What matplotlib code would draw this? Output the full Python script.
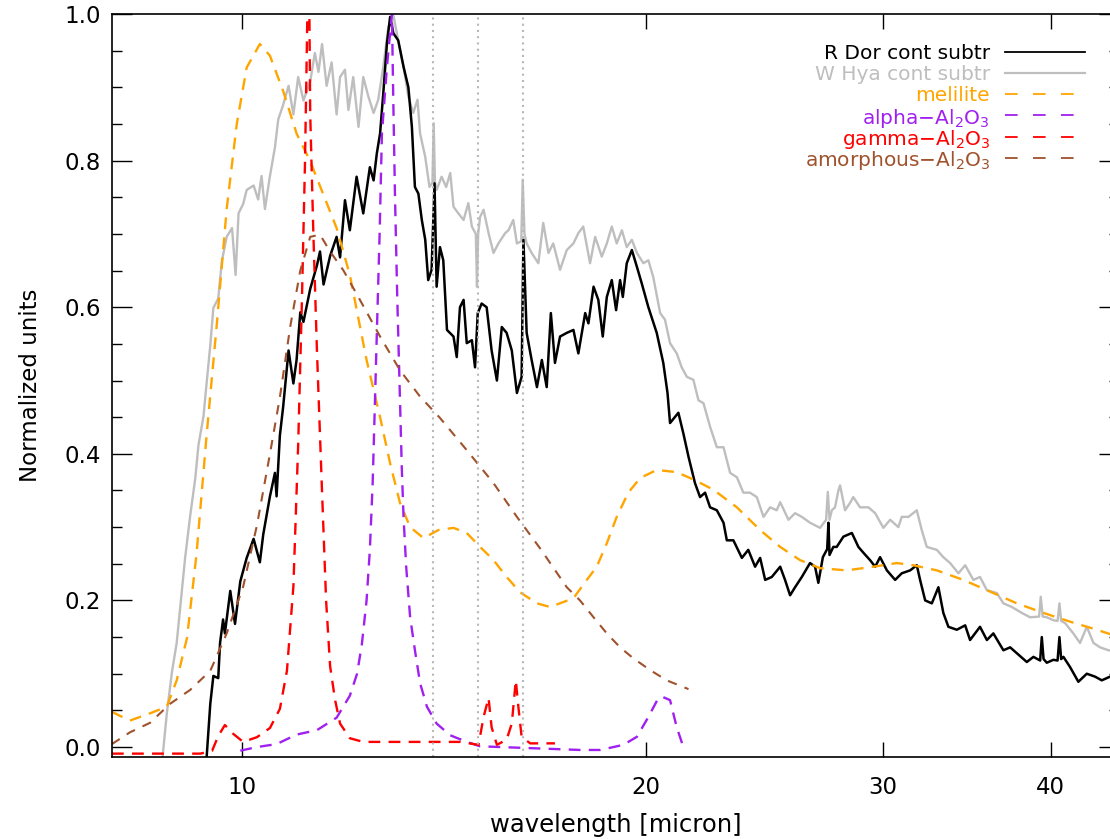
import matplotlib
matplotlib.use("Agg")
import matplotlib.pyplot as plt
from matplotlib.ticker import FixedLocator, NullLocator, MultipleLocator, FuncFormatter
from matplotlib.lines import Line2D

# ---------------- data ----------------
rdor_wl = [9.41, 9.47, 9.52, 9.60, 9.63, 9.68, 9.71, 9.80, 9.88, 9.97, 10.08, 10.20, 10.31, 10.37,
           10.49, 10.58, 10.61, 10.67, 10.73, 10.83, 10.92, 10.98, 11.05, 11.11, 11.24, 11.37, 11.43,
           11.50, 11.63, 11.76, 11.83, 11.93, 12.03, 12.17, 12.31, 12.45, 12.53, 12.60, 12.67, 12.74,
           12.82, 12.89, 12.96, 13.07, 13.19, 13.30, 13.38, 13.45, 13.53, 13.61, 13.69, 13.76, 13.84,
           13.91, 13.96, 14.04, 14.12, 14.21, 14.37, 14.45, 14.53, 14.62, 14.70, 14.83, 14.91, 14.98,
           15.08, 15.21, 15.34, 15.48, 15.61, 15.74, 15.88, 16.02, 16.15, 16.20, 16.29, 16.43, 16.58,
           16.72, 16.86, 16.98, 17.10, 17.25, 17.45, 17.65, 17.80, 18.01, 18.11, 18.27, 18.42, 18.56,
           18.69, 18.85, 18.99, 19.12, 19.21, 19.34, 19.51, 19.68, 19.84, 20.07, 20.36, 20.59, 20.74,
           20.83, 21.13, 21.31, 21.50, 21.74, 21.93, 22.12, 22.31, 22.57, 22.83, 22.96, 23.22, 23.56,
           23.82, 24.10, 24.31, 24.52, 24.80, 25.16, 25.37, 25.59, 25.81, 26.11, 26.48, 26.71, 26.86,
           27.07, 27.27, 27.33, 27.38, 27.56, 27.72, 28.04, 28.45, 28.77, 29.02, 29.35, 29.61, 29.86,
           30.21, 30.64, 30.99, 31.44, 31.80, 31.98, 32.26, 32.63, 33.00, 33.28, 33.57, 34.06, 34.55,
           34.84, 35.44, 35.86, 36.26, 36.89, 37.32, 37.75, 38.40, 38.84, 39.29, 39.40, 39.52, 39.74,
           40.19, 40.48, 40.61, 40.73, 40.89, 41.36, 41.95, 42.56, 43.17, 43.67, 44.29, 44.98]
rdor_val = [-0.015, 0.059, 0.097, 0.094, 0.142, 0.174, 0.155, 0.213, 0.168, 0.226, 0.258, 0.284, 0.252,
            0.290, 0.342, 0.374, 0.342, 0.425, 0.464, 0.541, 0.496, 0.528, 0.593, 0.580, 0.625, 0.657,
            0.676, 0.631, 0.670, 0.696, 0.668, 0.746, 0.705, 0.778, 0.728, 0.791, 0.773, 0.810, 0.837,
            0.892, 0.960, 0.996, 0.974, 0.964, 0.928, 0.900, 0.846, 0.764, 0.755, 0.719, 0.692, 0.637,
            0.651, 0.769, 0.628, 0.682, 0.664, 0.569, 0.560, 0.532, 0.600, 0.610, 0.551, 0.555, 0.518,
            0.592, 0.605, 0.600, 0.541, 0.500, 0.573, 0.565, 0.541, 0.483, 0.505, 0.692, 0.565, 0.528,
            0.491, 0.528, 0.491, 0.592, 0.524, 0.560, 0.565, 0.569, 0.537, 0.592, 0.578, 0.628, 0.610,
            0.560, 0.614, 0.637, 0.596, 0.637, 0.614, 0.660, 0.678, 0.655, 0.633, 0.600, 0.565, 0.524,
            0.483, 0.442, 0.456, 0.428, 0.396, 0.360, 0.341, 0.347, 0.327, 0.323, 0.306, 0.282, 0.282,
            0.258, 0.269, 0.246, 0.258, 0.228, 0.232, 0.246, 0.228, 0.207, 0.218, 0.232, 0.251, 0.246,
            0.224, 0.259, 0.270, 0.306, 0.262, 0.273, 0.273, 0.287, 0.292, 0.273, 0.265, 0.255, 0.246,
            0.259, 0.241, 0.228, 0.237, 0.241, 0.248, 0.228, 0.200, 0.196, 0.218, 0.183, 0.164, 0.160,
            0.166, 0.146, 0.164, 0.146, 0.155, 0.132, 0.136, 0.128, 0.116, 0.123, 0.118, 0.150, 0.120,
            0.115, 0.119, 0.118, 0.150, 0.120, 0.123, 0.109, 0.089, 0.100, 0.096, 0.091, 0.096, 0.092]

whya_wl = [8.72, 8.79, 8.87, 8.94, 8.99, 9.07, 9.15, 9.23, 9.28, 9.36, 9.41, 9.47, 9.52, 9.60, 9.66,
           9.74, 9.83, 9.89, 9.94, 10.02, 10.08, 10.20, 10.28, 10.34, 10.40, 10.49, 10.58, 10.64, 10.73,
           10.83, 10.92, 11.01, 11.11, 11.24, 11.33, 11.40, 11.47, 11.56, 11.66, 11.76, 11.83, 11.93,
           12.00, 12.10, 12.21, 12.31, 12.42, 12.53, 12.63, 12.74, 12.85, 12.96, 13.07, 13.19, 13.30,
           13.41, 13.51, 13.57, 13.69, 13.79, 13.86, 13.89, 13.92, 13.96, 14.08, 14.19, 14.29, 14.37,
           14.49, 14.62, 14.74, 14.83, 14.93, 14.96, 14.99, 15.04, 15.13, 15.26, 15.39, 15.52, 15.70,
           15.79, 15.92, 16.02, 16.14, 16.18, 16.23, 16.29, 16.43, 16.62, 16.76, 16.91, 17.05, 17.25,
           17.45, 17.65, 17.80, 17.95, 18.16, 18.32, 18.53, 18.69, 18.85, 19.01, 19.18, 19.34, 19.51,
           19.68, 19.90, 20.07, 20.24, 20.48, 20.65, 20.83, 21.07, 21.25, 21.44, 21.68, 21.87, 22.06,
           22.31, 22.57, 22.83, 23.09, 23.36, 23.62, 23.89, 24.17, 24.45, 24.73, 25.01, 25.16, 25.52,
           25.81, 26.11, 26.48, 26.94, 27.22, 27.30, 27.38, 27.49, 27.64, 27.80, 27.88, 28.12, 28.36,
           28.52, 28.85, 29.27, 29.61, 30.03, 30.38, 30.81, 30.99, 31.35, 31.80, 32.07, 32.35, 32.91,
           33.28, 33.67, 34.15, 34.55, 35.04, 35.44, 35.86, 36.48, 36.89, 37.43, 38.07, 38.62, 39.22,
           39.33, 39.46, 39.74, 40.19, 40.48, 40.61, 40.73, 41.01, 41.59, 42.07, 42.56, 43.05, 43.54,
           44.17, 44.98]
whya_val = [-0.019, 0.046, 0.104, 0.142, 0.187, 0.258, 0.316, 0.367, 0.412, 0.451, 0.496, 0.548, 0.599,
            0.612, 0.663, 0.696, 0.708, 0.644, 0.728, 0.741, 0.760, 0.766, 0.747, 0.779, 0.734, 0.779,
            0.818, 0.856, 0.876, 0.902, 0.863, 0.914, 0.882, 0.908, 0.947, 0.921, 0.959, 0.902, 0.934,
            0.863, 0.914, 0.924, 0.869, 0.914, 0.846, 0.914, 0.887, 0.865, 0.883, 0.928, 0.982, 0.999,
            0.964, 0.928, 0.887, 0.865, 0.883, 0.837, 0.805, 0.764, 0.770, 0.851, 0.770, 0.760, 0.778,
            0.764, 0.783, 0.737, 0.728, 0.719, 0.742, 0.710, 0.700, 0.628, 0.700, 0.723, 0.733, 0.701,
            0.674, 0.687, 0.701, 0.705, 0.719, 0.687, 0.690, 0.774, 0.700, 0.687, 0.674, 0.660, 0.715,
            0.674, 0.687, 0.651, 0.678, 0.687, 0.701, 0.710, 0.660, 0.696, 0.669, 0.687, 0.710, 0.687,
            0.705, 0.682, 0.692, 0.674, 0.660, 0.664, 0.641, 0.592, 0.583, 0.551, 0.537, 0.518, 0.505,
            0.501, 0.473, 0.469, 0.437, 0.409, 0.409, 0.374, 0.368, 0.347, 0.347, 0.341, 0.314, 0.327,
            0.323, 0.334, 0.310, 0.319, 0.314, 0.306, 0.299, 0.310, 0.348, 0.310, 0.323, 0.327, 0.350,
            0.357, 0.323, 0.333, 0.341, 0.327, 0.327, 0.319, 0.299, 0.310, 0.300, 0.314, 0.314, 0.323,
            0.296, 0.273, 0.269, 0.259, 0.251, 0.237, 0.248, 0.228, 0.232, 0.214, 0.210, 0.196, 0.191,
            0.183, 0.177, 0.178, 0.205, 0.178, 0.177, 0.173, 0.172, 0.196, 0.172, 0.169, 0.155, 0.142,
            0.164, 0.142, 0.136, 0.132, 0.130]

melilite_wl = [8.00, 8.25, 8.54, 8.79, 8.94, 9.10, 9.25, 9.41, 9.58, 9.74, 9.91, 10.08, 10.31, 10.49,
               10.73, 10.98, 11.24, 11.50, 11.76, 12.03, 12.38, 12.67, 12.89, 13.11, 13.34, 13.65, 14.00,
               14.37, 14.70, 15.04, 15.39, 15.74, 16.11, 16.58, 16.96, 17.65, 18.06, 18.37, 18.69, 19.01,
               19.39, 19.79, 20.36, 21.07, 21.74, 22.44, 23.36, 24.31, 25.16, 26.03, 26.94, 28.20, 29.52,
               30.73, 31.61, 32.91, 34.44, 36.06, 37.75, 39.51, 41.36, 43.30, 44.98]
melilite_val = [0.048, 0.036, 0.046, 0.055, 0.091, 0.149, 0.264, 0.425, 0.580, 0.734, 0.850, 0.927,
                0.959, 0.943, 0.895, 0.837, 0.799, 0.753, 0.708, 0.644, 0.528, 0.450, 0.387, 0.333,
                0.300, 0.285, 0.296, 0.299, 0.292, 0.273, 0.255, 0.232, 0.211, 0.196, 0.191, 0.203,
                0.228, 0.246, 0.278, 0.314, 0.347, 0.367, 0.378, 0.375, 0.364, 0.351, 0.327, 0.296,
                0.273, 0.255, 0.244, 0.241, 0.246, 0.251, 0.248, 0.241, 0.228, 0.212, 0.196, 0.183,
                0.171, 0.160, 0.150]

alpha_wl = [9.97, 10.26, 10.61, 10.98, 11.37, 11.76, 12.03, 12.18, 12.28, 12.38, 12.45, 12.51, 12.56,
            12.60, 12.66, 12.71, 12.82, 12.93, 12.96, 13.00, 13.05, 13.11, 13.15, 13.19, 13.25, 13.34,
            13.45, 13.57, 13.73, 13.96, 14.29, 14.70, 15.04, 17.85, 18.48, 19.23, 19.68, 20.07, 20.42,
            20.59, 20.83, 21.07, 21.31]
alpha_val = [-0.005, 0.000, 0.004, 0.017, 0.023, 0.040, 0.070, 0.100, 0.140, 0.200, 0.269, 0.360,
             0.473, 0.565, 0.700, 0.837, 0.928, 1.000, 0.883, 0.746, 0.610, 0.473, 0.382, 0.314,
             0.246, 0.177, 0.132, 0.087, 0.055, 0.032, 0.016, 0.007, 0.001, -0.004, -0.004, 0.003,
             0.014, 0.041, 0.067, 0.068, 0.064, 0.027, 0.000]

gamma_wl = [8.00, 9.31, 9.50, 9.60, 9.71, 9.85, 10.02, 10.26, 10.49, 10.67, 10.80, 10.92, 11.01, 11.08,
            11.14, 11.185, 11.205, 11.224, 11.24, 11.30, 11.37, 11.47, 11.55, 11.63, 11.73, 11.83,
            12.03, 12.31, 14.53, 15.00, 15.13, 15.26, 15.34, 15.48, 15.74, 15.88, 15.99, 16.06, 16.15,
            16.39, 17.10]
gamma_val = [-0.009, -0.009, -0.005, 0.015, 0.030, 0.018, 0.007, 0.0135, 0.026, 0.052, 0.104, 0.219,
             0.412, 0.606, 0.799, 1.000, 1.150, 1.000, 0.863, 0.702, 0.541, 0.348, 0.200, 0.110,
             0.064, 0.032, 0.012, 0.007, 0.007, 0.003, 0.041, 0.067, 0.027, 0.003, 0.010, 0.032,
             0.091, 0.055, 0.014, 0.005, 0.005]

amorph_wl = [8.00, 8.25, 8.54, 8.84, 9.15, 9.47, 9.74, 10.02, 10.26, 10.49, 10.67, 10.86, 11.05, 11.24,
             11.43, 11.63, 11.90, 12.24, 12.67, 13.11, 13.57, 14.04, 14.70, 15.39, 16.02, 16.67, 17.45,
             17.85, 18.27, 18.69, 19.12, 19.56, 20.13, 20.71, 21.50]
amorph_val = [0.004, 0.020, 0.033, 0.059, 0.078, 0.104, 0.155, 0.219, 0.303, 0.400, 0.477, 0.573,
              0.650, 0.696, 0.699, 0.676, 0.650, 0.610, 0.560, 0.514, 0.478, 0.449, 0.405, 0.360,
              0.314, 0.271, 0.218, 0.200, 0.177, 0.155, 0.136, 0.121, 0.105, 0.091, 0.079]

marker_lines = [13.87, 14.98, 16.18]

xticks = [10, 20, 30, 40]
yticks = [0.0, 0.2, 0.4, 0.6, 0.8, 1.0]

legend_labels = ['R Dor cont subtr', 'W Hya cont subtr', 'melilite',
                 r'alpha$-$Al$_2$O$_3$', r'gamma$-$Al$_2$O$_3$', r'amorphous$-$Al$_2$O$_3$']

# ---------------- style ----------------
plt.rcParams['font.family'] = ['DejaVu Sans']
plt.rcParams['mathtext.fontset'] = 'dejavusans'
plt.rcParams['mathtext.default'] = 'regular'

C_BLACK = '#000000'
C_GRAY = '#bebebe'
C_ORANGE = '#ffa500'
C_PURPLE = '#a020f0'
C_RED = '#ff0000'
C_BROWN = '#a0522d'

W, H = 1110, 839
fig = plt.figure(figsize=(W / 100, H / 100), dpi=100)
ax = fig.add_axes([111.9 / W, 1 - 757 / H, 1007.4 / W, 743 / H])

ax.set_xscale('log')
ax.set_xlim(8.0, 45.0)
ax.set_ylim(-0.0136, 1.0)

DASH = (5, 3.5)
ax.plot(whya_wl, whya_val, color=C_GRAY, lw=1.7, zorder=3)
ax.plot(rdor_wl, rdor_val, color=C_BLACK, lw=1.8, zorder=4)
ax.plot(melilite_wl, melilite_val, color=C_ORANGE, lw=1.7, dashes=DASH, zorder=5)
ax.plot(alpha_wl, alpha_val, color=C_PURPLE, lw=1.7, dashes=DASH, zorder=5)
ax.plot(gamma_wl, gamma_val, color=C_RED, lw=1.7, dashes=DASH, zorder=5)
ax.plot(amorph_wl, amorph_val, color=C_BROWN, lw=1.5, dashes=(4.5, 4), zorder=5)

for wl in marker_lines:
    ax.axvline(wl, color='#b8b8b8', lw=1.5, linestyle=(0, (1, 2)), zorder=6)

# ticks
ax.xaxis.set_major_locator(FixedLocator(xticks))
ax.xaxis.set_minor_locator(NullLocator())
ax.xaxis.set_major_formatter(FuncFormatter(lambda v, p: '%d' % v))
ax.yaxis.set_major_locator(FixedLocator(yticks))
ax.yaxis.set_minor_locator(MultipleLocator(0.05))
ax.yaxis.set_major_formatter(FuncFormatter(lambda v, p: '%.1f' % v))
ax.tick_params(axis='both', which='both', direction='in', top=True, right=True, width=1.0,
               labelsize=16.5)
ax.tick_params(axis='x', which='major', length=10.8, pad=14)
ax.tick_params(axis='y', which='major', length=14.4, pad=8)
ax.tick_params(axis='y', which='minor', length=7.2)
for sp in ax.spines.values():
    sp.set_linewidth(1.2)
    sp.set_zorder(10)

ax.set_xlabel('wavelength [micron]', fontsize=17.5, labelpad=10)
ax.set_ylabel('Normalized units', fontsize=16.5, labelpad=16)

# legend (text right-aligned, sample line to the right)
leg_colors = [C_BLACK, C_GRAY, C_ORANGE, C_PURPLE, C_RED, C_BROWN]
leg_styles = ['solid', 'solid', 'dash', 'dash', 'dash', 'dash']
row_y = [51.7, 72.7, 93.6, 115.0, 136.7, 158.0]
for lab, col, st, py in zip(legend_labels, leg_colors, leg_styles, row_y):
    yf = (757 - py) / 743
    ax.text((990 - 111.9) / 1007.4, yf, lab, color=col, fontsize=14.5, ha='right',
            va='center_baseline', transform=ax.transAxes, zorder=12)
    if st == 'solid':
        ln = Line2D([(1005 - 111.9) / 1007.4, (1085 - 111.9) / 1007.4], [yf, yf], color=col,
                    lw=1.3 if col == C_BLACK else 1.6, transform=ax.transAxes, zorder=12)
    else:
        ln = Line2D([(1005 - 111.9) / 1007.4, (1076 - 111.9) / 1007.4], [yf, yf], color=col,
                    lw=1.3, dashes=(7, 8.5), transform=ax.transAxes, zorder=12)
    ax.add_line(ln)

fig.savefig('out.png', dpi=100)
